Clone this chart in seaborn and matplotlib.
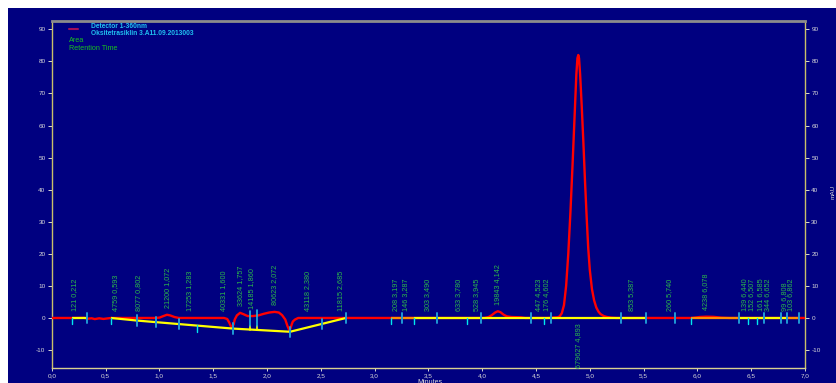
import numpy as np
import pandas as pd
import matplotlib
matplotlib.use("Agg")
import matplotlib.pyplot as plt
from matplotlib.lines import Line2D
from matplotlib.patches import Rectangle
import seaborn as sns

# Detector trace, 360 nm (minutes, mAU)
trace_min = [0.00, 0.19, 0.30, 0.34, 0.37, 0.40, 0.44, 0.48, 0.55, 0.95, 1.00, 1.03,
             1.07, 1.10, 1.14, 1.18, 1.60, 1.63, 1.65, 1.67, 1.69, 1.70, 1.72, 1.75,
             1.78, 1.82, 1.87, 1.92, 1.97, 2.02, 2.07, 2.11, 2.14, 2.17, 2.19, 2.21,
             2.23, 2.24, 2.26, 2.29, 4.02, 4.06, 4.09, 4.12, 4.145, 4.17, 4.20, 4.23,
             4.27, 4.36, 4.40, 4.60, 4.70, 4.72, 4.74, 4.76, 4.78, 4.80, 4.82, 4.84,
             4.86, 4.875, 4.885, 4.893, 4.90, 4.91, 4.925, 4.94, 4.955, 4.97, 4.985,
             5.00, 5.02, 5.04, 5.06, 5.08, 5.10, 5.13, 5.16, 5.20, 5.25, 5.95, 6.02,
             6.08, 6.15, 6.22, 6.30, 7.00]
trace_mau = [0.0, 0.0, 0.05, -0.2, -0.1, -0.35, -0.1, -0.3, 0.0, 0.0, 0.1, 0.5,
             1.0, 0.8, 0.3, 0.0, 0.0, -0.3, -1.5, -3.0, -2.0, -0.5, 0.8, 1.6,
             1.2, 0.6, 0.6, 0.8, 1.3, 1.7, 1.9, 1.7, 0.9, -0.5, -2.5, -4.0,
             -2.0, -1.1, -0.5, 0.0, 0.0, 0.3, 0.9, 1.7, 2.1, 1.8, 1.0, 0.5,
             0.3, 0.2, 0.0, 0.0, 0.2, 0.5, 1.5, 4.0, 10.0, 20.0, 33.0, 48.0,
             64.0, 76.0, 81.0, 82.0, 81.0, 76.0, 66.0, 55.0, 43.0, 32.0, 22.0,
             15.0, 9.0, 5.5, 3.3, 2.0, 1.2, 0.6, 0.3, 0.1, 0.0, 0.0, 0.3,
             0.4, 0.35, 0.1, 0.0, 0.0]

# Integration results
peak_area = [121, 4759, 8077, 21200, 17253, 40331, 33624, 14185, 80623, 43118, 11815,
             208, 146, 303, 633, 528, 19843, 447, 176, 679627, 853, 260, 4238,
             139, 152, 161, 344, 99, 103]
peak_rt = [0.212, 0.593, 0.802, 1.072, 1.283, 1.600, 1.757, 1.860, 2.072, 2.380, 2.685,
           3.197, 3.287, 3.490, 3.780, 3.945, 4.142, 4.523, 4.602, 4.893, 5.387, 5.740,
           6.078, 6.440, 6.507, 6.585, 6.652, 6.808, 6.862]

# Integration baselines
base1_min = [0.19, 0.324]
base1_mau = [0.0, 0.0]
base2_min = [0.55, 0.79, 1.18, 1.68, 2.214, 2.734]
base2_mau = [0.0, -0.8, -1.9, -3.3, -4.3, 0.0]
base3_min = [3.369, 5.52]
base3_mau = [0.0, 0.0]
base4_min = [6.39, 6.835]
base4_mau = [0.0, 0.0]
shaded_min = [[3.149, 3.369], [5.936, 6.39], [6.835, 6.94]]

# Peak start / end event marks
event_min = [0.19, 0.324, 0.55, 0.789, 0.968, 1.182, 1.346, 1.68, 1.842, 1.904, 2.214,
             2.508, 2.734, 3.149, 3.257, 3.369, 3.58, 3.855, 3.986, 4.454, 4.577, 4.639,
             5.29, 5.52, 5.79, 5.936, 6.39, 6.473, 6.55, 6.62, 6.78, 6.835, 6.94]
event_mau = [0.0, 0.0, 0.0, -0.8, -1.3, -1.9, -2.35, -3.3, -3.6, -3.7, -4.3,
             -1.9, 0.0, 0.0, 0.0, 0.0, 0.0, 0.0, 0.0, 0.0, 0.0, 0.0,
             0.0, 0.0, 0.0, 0.0, 0.0, 0.0, 0.0, 0.0, 0.0, 0.0, 0.0]
event_kind = ["s", "e", "s", "e", "e", "e", "s", "e", "d", "d", "e",
              "e", "e", "s", "e", "s", "e", "s", "e", "e", "s", "e",
              "e", "e", "e", "s", "e", "s", "s", "e", "e", "e", "e"]

W, H = 837, 383
NAVY = "#000080"

sns.set_style("dark")
plt.rcParams["font.family"] = ["Liberation Sans", "DejaVu Sans"]

fig = plt.figure(figsize=(W / 100, H / 100), dpi=100, facecolor="white")
fig.patches.append(Rectangle((8 / W, 0), 1, 1 - 8 / H, transform=fig.transFigure,
                             facecolor=NAVY, edgecolor="none", zorder=-10))
ax = fig.add_axes([51.8 / W, (H - 368) / H, (805 - 51.8) / W, (368 - 20.7) / H])
ax.set_facecolor(NAVY)

trace = pd.DataFrame({"Minutes": trace_min, "mAU": trace_mau})
sns.lineplot(data=trace, x="Minutes", y="mAU", color="#ff0000", lw=1.7,
             estimator=None, sort=False, ax=ax, zorder=3)

# baselines
for bx, by in [(base1_min, base1_mau), (base2_min, base2_mau),
               (base3_min, base3_mau), (base4_min, base4_mau)]:
    ax.plot(bx, by, color="#ffff00", lw=1.6, zorder=4, solid_capstyle="butt")
for x0, x1 in shaded_min:
    ax.plot([x0, x1], [0, 0], color="#ff8c00", lw=1.6, zorder=4, solid_capstyle="butt")

# event marks
for t, lvl, kind in zip(event_min, event_mau, event_kind):
    if kind == "s":
        ax.plot([t, t], [lvl - 1.9, lvl + 0.1], color="#00e8f0", lw=1.0, zorder=5)
    elif kind == "e":
        ax.plot([t, t], [lvl - 1.6, lvl + 1.6], color="#1e9ad6", lw=1.4, zorder=5)
    else:
        sig = np.interp(t, trace_min, trace_mau)
        ax.plot([t, t], [lvl, lvl + 1.2], color="#ffff00", lw=1.2, zorder=5)
        ax.plot([t, t], [lvl + 1.2, sig + 1.6], color="#20b8e0", lw=1.2, zorder=5)

# peak labels: area and retention time
lab_kw = dict(rotation=90, ha="center", fontsize=5.2, color="#2cb84a",
              family=["Liberation Sans", "DejaVu Sans"], zorder=6)
for area, rt in zip(peak_area, peak_rt):
    txt = f"{area} {rt:.3f}".replace(".", ",")
    top = np.interp(rt, trace_min, trace_mau)
    if top > 50:
        ax.text(rt, -1.6, txt, va="top", **lab_kw)
    else:
        ax.text(rt, max(top, 0) + 2.1, txt, va="bottom", **lab_kw)

ax.set_xlim(0, 7.0)
ax.set_ylim(-15.6, 92.7)
xt = np.arange(0, 7.01, 0.5)
ax.set_xticks(xt)
ax.set_xticklabels([f"{v:.1f}".replace(".", ",") for v in xt])
yt = np.arange(-10, 91, 10)
ax.set_yticks(yt)
ax.set_yticklabels([str(v) for v in yt])
ax.tick_params(axis="both", colors="#d8d8d8", labelsize=4.6, length=3, width=0.7,
               direction="out", pad=1.5)
ax.tick_params(axis="y", left=True, right=True, labelleft=True, labelright=True)
ax.tick_params(axis="x", bottom=True, length=2)
ax.grid(False)
ax.set_xlabel("")
ax.set_ylabel("")

for side, col, lw in [("left", "#c8bf6a", 1.0), ("right", "#c8bf6a", 1.0),
                      ("bottom", "#d8d090", 1.0), ("top", "#8c8c8c", 2.0)]:
    ax.spines[side].set_visible(True)
    ax.spines[side].set_color(col)
    ax.spines[side].set_linewidth(lw)

# axis titles
fig.text(430 / W, 1 - 379.5 / H, "Minutes", ha="center", va="top", fontsize=5,
         color="#d8d8d8")
fig.text(833 / W, 1 - 192 / H, "mAU", ha="center", va="center", rotation=90,
         fontsize=4.6, color="#d8d8d8")

# legend block
fig.add_artist(Line2D([69 / W, 78 / W], [1 - 29 / H, 1 - 29 / H], color="#a0105a",
                      lw=1.5, transform=fig.transFigure))
fig.text(90.7 / W, 1 - 26 / H, "Detector 1-360nm", ha="left", va="center",
         fontsize=4.8, fontweight="bold", color="#20c0f0")
fig.text(90.7 / W, 1 - 33.3 / H, "Oksitetrasiklin 3.A11.09.2013003", ha="left",
         va="center", fontsize=4.8, fontweight="bold", color="#20c0f0")
fig.text(69 / W, 1 - 40.7 / H, "Area", ha="left", va="center", fontsize=5.2,
         color="#18c020")
fig.text(69 / W, 1 - 48.7 / H, "Retention Time", ha="left", va="center",
         fontsize=5.2, color="#18c020")

fig.savefig("out.png", dpi=100, facecolor="white")
